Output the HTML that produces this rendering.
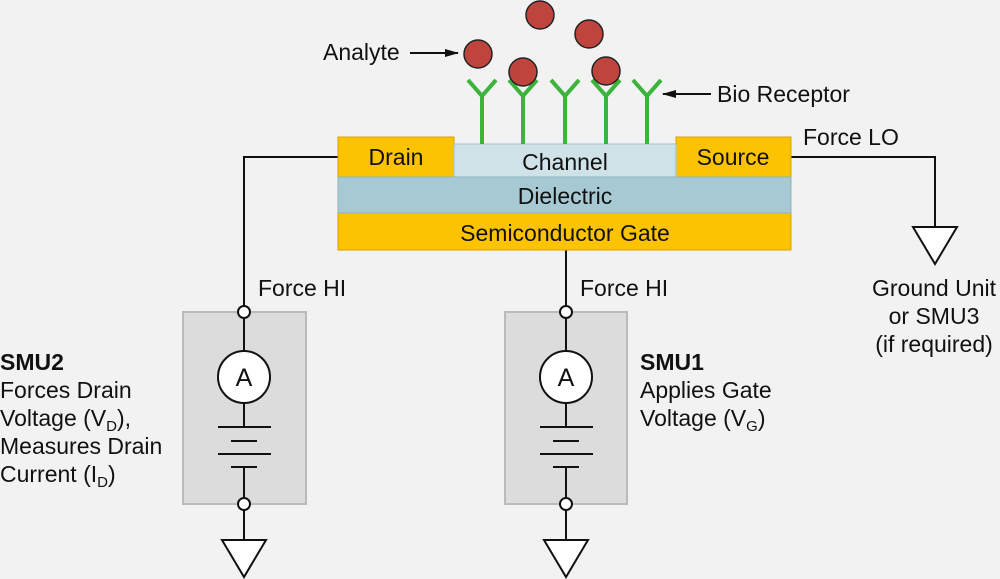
<!DOCTYPE html>
<html><head><style>
html,body{margin:0;padding:0;background:#f2f2f2;}
svg{display:block}
text{font-family:"Liberation Sans",Helvetica,Arial,sans-serif;fill:#111;}
</style></head><body>
<svg width="1000" height="579" viewBox="0 0 1000 579" xmlns="http://www.w3.org/2000/svg">
<rect width="1000" height="579" fill="#f2f2f2"/>
<defs><marker id="ah" markerWidth="14" markerHeight="8" refX="13" refY="4" orient="auto" markerUnits="userSpaceOnUse"><path d="M0,0 L14,4 L0,8 z" fill="#111"/></marker></defs>
<g stroke="#111" stroke-width="2" fill="none">
<polyline points="338,157 244,157 244,540"/>
<line x1="566" y1="250" x2="566" y2="540"/>
<polyline points="791,157 935,157 935,227"/>
</g>
<g stroke="#d9a200" stroke-width="1">
<rect x="338" y="137" width="116" height="40" fill="#fcc300"/>
<rect x="676" y="137" width="115" height="40" fill="#fcc300"/>
<rect x="338" y="213" width="453" height="37" fill="#fcc300"/>
</g>
<rect x="454" y="144" width="222" height="33" fill="#cfe2e8" stroke="#9fc0cc"/>
<rect x="338" y="177" width="453" height="36" fill="#a7c9d3" stroke="#8fb3bf"/>
<g font-size="23" text-anchor="middle">
<text x="396" y="165">Drain</text>
<text x="565" y="170">Channel</text>
<text x="733" y="165">Source</text>
<text x="565" y="204">Dielectric</text>
<text x="565" y="241">Semiconductor Gate</text>
</g>
<g stroke="#3cb43c" stroke-width="4" fill="none">
<path d="M482,144V96 M468,80 L482,96 L496,80"/>
<path d="M523,144V96 M509,80 L523,96 L537,80"/>
<path d="M565,144V96 M551,80 L565,96 L579,80"/>
<path d="M606,144V96 M592,80 L606,96 L620,80"/>
<path d="M647,144V96 M633,80 L647,96 L661,80"/>
</g>
<g fill="#c0443e" stroke="#222" stroke-width="1.5">
<circle cx="478" cy="54" r="14"/>
<circle cx="540" cy="15" r="14"/>
<circle cx="589" cy="34" r="14"/>
<circle cx="523" cy="72" r="14"/>
<circle cx="606" cy="71" r="14"/>
</g>
<g stroke="#111" stroke-width="2">
<line x1="410" y1="53" x2="458" y2="53" marker-end="url(#ah)"/>
<line x1="711" y1="94" x2="663" y2="94" marker-end="url(#ah)"/>
</g>
<g font-size="23">
<text x="323" y="60">Analyte</text>
<text x="717" y="102">Bio Receptor</text>
<text x="803" y="145">Force LO</text>
</g>
<path d="M913,227 L957,227 L935,264 Z" fill="#fff" stroke="#111" stroke-width="2"/>
<g font-size="23" text-anchor="middle">
<text x="934" y="296">Ground Unit</text>
<text x="934" y="324">or SMU3</text>
<text x="934" y="352">(if required)</text>
</g>
<rect x="183" y="312" width="123" height="192" fill="#dcdcdc" stroke="#bbb" stroke-width="2"/>
<rect x="505" y="312" width="122" height="192" fill="#dcdcdc" stroke="#bbb" stroke-width="2"/>
<g stroke="#111" stroke-width="2">
<line x1="244" y1="312" x2="244" y2="540"/>
<line x1="566" y1="312" x2="566" y2="540"/>
</g>
<g stroke="#111" stroke-width="2" fill="#fff">
<circle cx="244" cy="312" r="6"/><circle cx="244" cy="504" r="6"/>
<circle cx="566" cy="312" r="6"/><circle cx="566" cy="504" r="6"/>
<circle cx="244" cy="377" r="26"/><circle cx="566" cy="377" r="26"/>
<path d="M222,540 L266,540 L244,577 Z"/>
<path d="M544,540 L588,540 L566,577 Z"/>
</g>
<rect x="215" y="428" width="60" height="44" fill="#dcdcdc"/>
<rect x="537" y="428" width="60" height="44" fill="#dcdcdc"/>
<g stroke="#111" stroke-width="2">
<line x1="244" y1="403" x2="244" y2="427"/><line x1="244" y1="467" x2="244" y2="498"/>
<line x1="566" y1="403" x2="566" y2="427"/><line x1="566" y1="467" x2="566" y2="498"/>
<line x1="218" y1="427" x2="271" y2="427"/><line x1="231" y1="441" x2="257" y2="441"/>
<line x1="218" y1="454" x2="271" y2="454"/><line x1="231" y1="467" x2="257" y2="467"/>
<line x1="540" y1="427" x2="593" y2="427"/><line x1="553" y1="441" x2="579" y2="441"/>
<line x1="540" y1="454" x2="593" y2="454"/><line x1="553" y1="467" x2="579" y2="467"/>
</g>
<text x="244" y="386" font-size="25" text-anchor="middle">A</text>
<text x="566" y="386" font-size="25" text-anchor="middle">A</text>
<g font-size="23">
<text x="258" y="296">Force HI</text>
<text x="580" y="296">Force HI</text>
<text x="0" y="370" font-weight="bold">SMU2</text>
<text x="0" y="398">Forces Drain</text>
<text x="0" y="426">Voltage (V<tspan font-size="15" dy="5">D</tspan><tspan dy="-5">),</tspan></text>
<text x="0" y="454">Measures Drain</text>
<text x="0" y="482">Current (I<tspan font-size="15" dy="5">D</tspan><tspan dy="-5">)</tspan></text>
<text x="640" y="370" font-weight="bold">SMU1</text>
<text x="640" y="398">Applies Gate</text>
<text x="640" y="426">Voltage (V<tspan font-size="15" dy="5">G</tspan><tspan dy="-5">)</tspan></text>
</g>
</svg>
</body></html>
